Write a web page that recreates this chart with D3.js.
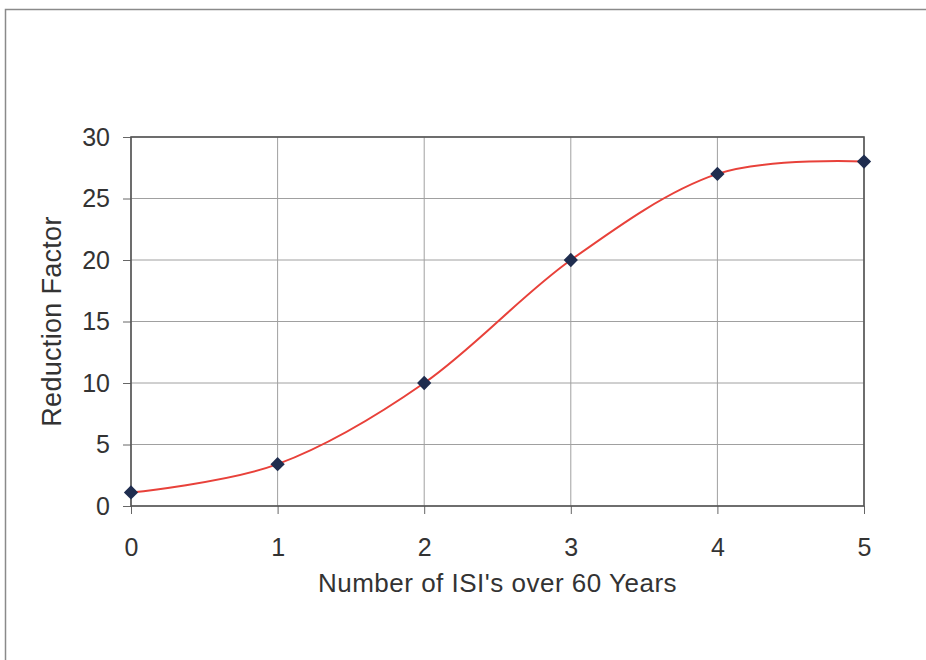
<!DOCTYPE html>
<html>
<head>
<meta charset="utf-8">
<script src="https://cdn.jsdelivr.net/npm/d3@7"></script>
<style>
  body { margin: 0; background: #fff; }
  svg { display: block; font-family: "Liberation Sans", Arial, sans-serif; }
</style>
</head>
<body>
<div id="chart"></div>
<script>
// data
var isiCounts = [0, 1, 2, 3, 4, 5];
var reductionFactor = [1.1, 3.4, 10, 20, 27, 28];
var yTicks = [0, 5, 10, 15, 20, 25, 30];

var W = 926, H = 660;
var margin = { top: 137, right: 62, bottom: 154, left: 131 };
var width = W - margin.left - margin.right;
var height = H - margin.top - margin.bottom;

var svg = d3.select("#chart").append("svg")
  .attr("width", W)
  .attr("height", H);

// scanned page frame
svg.append("path")
  .attr("d", "M5.5,660 V9.5 H926")
  .attr("fill", "none")
  .attr("stroke", "#8a8a8a")
  .attr("stroke-width", 1.5);

var g = svg.append("g")
  .attr("transform", "translate(" + margin.left + "," + margin.top + ")");

var x = d3.scaleLinear().domain([0, 5]).range([0, width]);
var y = d3.scaleLinear().domain([0, 30]).range([height, 0]);

// gridlines
g.append("g")
  .selectAll("line.hgrid")
  .data(yTicks)
  .enter().append("line")
    .attr("x1", 0).attr("x2", width)
    .attr("y1", function(d) { return y(d); })
    .attr("y2", function(d) { return y(d); })
    .attr("stroke", "#a0a0a0")
    .attr("stroke-width", 1);

g.append("g")
  .selectAll("line.vgrid")
  .data(isiCounts)
  .enter().append("line")
    .attr("y1", 0).attr("y2", height)
    .attr("x1", function(d) { return x(d); })
    .attr("x2", function(d) { return x(d); })
    .attr("stroke", "#a0a0a0")
    .attr("stroke-width", 1);

// axes
var yAxis = d3.axisLeft(y).tickValues(yTicks).tickSize(8).tickPadding(13);
var xAxis = d3.axisBottom(x).tickValues(isiCounts).tickFormat(d3.format("d"))
  .tickSize(8).tickPadding(24);

var gy = g.append("g").call(yAxis);
var gx = g.append("g").attr("transform", "translate(0," + height + ")").call(xAxis);

[gx, gy].forEach(function(a) {
  a.attr("font-size", null).attr("font-family", null);
  a.select(".domain").remove();
  a.selectAll(".tick line").attr("stroke", "#666").attr("stroke-width", 1);
  a.selectAll(".tick text")
    .attr("fill", "#333")
    .style("font-size", "25px");
});

// plot border
g.append("rect")
  .attr("width", width)
  .attr("height", height)
  .attr("fill", "none")
  .attr("stroke", "#555")
  .attr("stroke-width", 1.6);

// smoothed line (excel-like)
var line = d3.line()
  .x(function(d, i) { return x(isiCounts[i]); })
  .y(function(d) { return y(d); })
  .curve(d3.curveCardinal.tension(0));

g.append("path")
  .datum(reductionFactor)
  .attr("d", line)
  .attr("fill", "none")
  .attr("stroke", "#e8413a")
  .attr("stroke-width", 2);

// diamond markers
var diamond = d3.symbol().type(d3.symbolDiamond2).size(130);
g.selectAll(".marker")
  .data(reductionFactor)
  .enter().append("path")
    .attr("class", "marker")
    .attr("d", diamond)
    .attr("transform", function(d, i) {
      return "translate(" + x(isiCounts[i]) + "," + y(d) + ")";
    })
    .attr("fill", "#1f2d4f");

// axis titles
svg.append("text")
  .attr("x", margin.left + width / 2)
  .attr("y", 592)
  .attr("text-anchor", "middle")
  .attr("fill", "#333")
  .style("font-size", "26px")
  .style("letter-spacing", "0.5px")
  .text("Number of ISI's over 60 Years");

svg.append("text")
  .attr("transform", "translate(61," + (margin.top + height / 2) + ") rotate(-90)")
  .attr("text-anchor", "middle")
  .attr("fill", "#333")
  .style("font-size", "27px")
  .style("letter-spacing", "0.3px")
  .text("Reduction Factor");
</script>
</body>
</html>
